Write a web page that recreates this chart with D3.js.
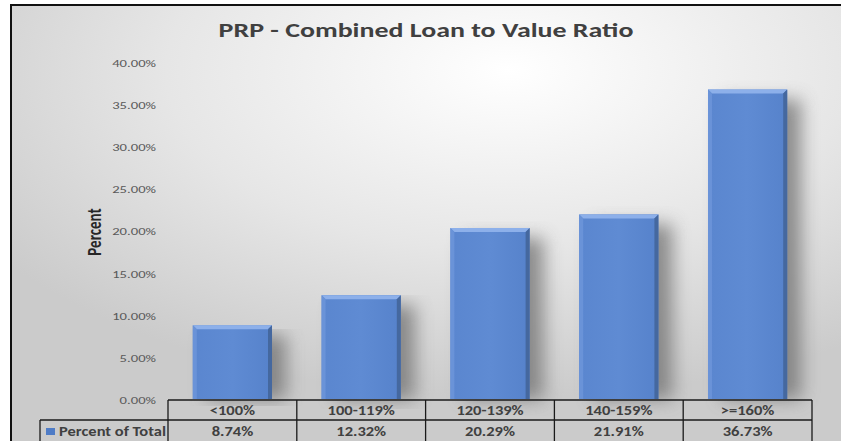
<!DOCTYPE html>
<html>
<head>
<meta charset="utf-8">
<script src="https://cdn.jsdelivr.net/npm/d3@7"></script>
<style>
  html, body { margin: 0; padding: 0; background: #fff; }
  svg { display: block; }
</style>
</head>
<body>
<svg id="chart"></svg>
<script>
(() => {
  const W = 841, H = 441;

  // data
  const categories = ["<100%", "100-119%", "120-139%", "140-159%", ">=160%"];
  const values = [8.74, 12.32, 20.29, 21.91, 36.73];
  const yTicks = [0, 5, 10, 15, 20, 25, 30, 35, 40];
  const seriesName = "Percent of Total";
  const title = "PRP - Combined Loan to Value Ratio";

  const FONT = "Carlito, 'Open Sans', 'Noto Sans', sans-serif";
  const SX = 1.33; // the picture is a bit wider than the font
  const svg = d3.select("#chart").attr("width", W).attr("height", H);
  const defs = svg.append("defs");

  // background gradient (light centre, grey edges)
  const bg = defs.append("radialGradient").attr("id", "bg")
    .attr("cx", "0.6").attr("cy", "0.15").attr("r", "0.75");
  bg.append("stop").attr("offset", "0").attr("stop-color", "#ffffff");
  bg.append("stop").attr("offset", "0.55").attr("stop-color", "#e6e6e6");
  bg.append("stop").attr("offset", "1").attr("stop-color", "#cbcbcb");

  const barG = defs.append("linearGradient").attr("id", "barFill").attr("x1", 0).attr("x2", 1);
  barG.append("stop").attr("offset", "0").attr("stop-color", "#5a86cf");
  barG.append("stop").attr("offset", "0.5").attr("stop-color", "#5f8bd3");
  barG.append("stop").attr("offset", "1").attr("stop-color", "#5682cb");

  const sh = defs.append("filter").attr("id", "shadow")
    .attr("x", "-40%").attr("y", "-10%").attr("width", "200%").attr("height", "120%");
  sh.append("feGaussianBlur").attr("stdDeviation", 9);

  // frame
  svg.append("rect").attr("x", 11).attr("y", 5).attr("width", W - 11).attr("height", H - 5)
    .attr("fill", "url(#bg)");
  svg.append("path").attr("d", `M11,${H} L11,5 L${W},5`)
    .attr("fill", "none").attr("stroke", "#111").attr("stroke-width", 2);

  // scales
  const x = d3.scaleBand().domain(categories).range([168, 812]).paddingInner(0).paddingOuter(0);
  const y = d3.scaleLinear().domain([0, 40]).range([399, 62]);
  const bw = x.bandwidth() * 0.615;
  const bx = c => x(c) + (x.bandwidth() - bw) / 2;

  // title
  svg.append("text").attr("transform", `translate(426,37) scale(${SX},1)`).attr("text-anchor", "middle")
    .attr("font-family", FONT).attr("font-weight", "bold").attr("font-size", 21)
    .attr("fill", "#404040").text(title);

  // y axis labels
  const yAxis = d3.axisLeft(y).tickValues(yTicks).tickSize(0).tickPadding(0)
    .tickFormat(d => d.toFixed(2) + "%");
  const ya = svg.append("g").attr("transform", "translate(156,0)").call(yAxis);
  ya.select(".domain").remove();
  ya.selectAll("text").attr("font-family", FONT).attr("font-size", 11)
    .attr("fill", "#595959").attr("dy", "0.4em").attr("transform", `scale(${SX},1)`);

  svg.append("text").attr("transform", "translate(101,232) rotate(-90) scale(1,1.3)")
    .attr("text-anchor", "middle").attr("font-family", FONT).attr("font-weight", "bold")
    .attr("font-size", 15).attr("fill", "#262626").text("Percent");

  // bars
  const bars = svg.append("g").selectAll("g").data(values).join("g");
  bars.append("rect")
    .attr("x", (d, i) => bx(categories[i]) + 14)
    .attr("y", d => y(d) + 10).attr("width", bw).attr("height", d => y(0) - y(d) - 10)
    .attr("fill", "#6e6e6e").attr("opacity", 0.75).attr("filter", "url(#shadow)");
  bars.append("rect")
    .attr("x", (d, i) => bx(categories[i]))
    .attr("y", d => y(d)).attr("width", bw).attr("height", d => y(0) - y(d))
    .attr("fill", "url(#barFill)");
  const bev = 4;
  // top bevel
  bars.append("path").attr("d", (d, i) => {
    const x0 = bx(categories[i]), x1 = x0 + bw, t = y(d);
    return `M${x0},${t} L${x1},${t} L${x1 - bev},${t + bev} L${x0 + bev},${t + bev} Z`;
  }).attr("fill", "#8db0ea");
  // left bevel
  bars.append("path").attr("d", (d, i) => {
    const x0 = bx(categories[i]), t = y(d), b = y(0);
    return `M${x0},${t} L${x0 + bev},${t + bev} L${x0 + bev},${b} L${x0},${b} Z`;
  }).attr("fill", "#6a93d8");
  // right bevel
  bars.append("path").attr("d", (d, i) => {
    const x1 = bx(categories[i]) + bw, t = y(d), b = y(0);
    return `M${x1},${t} L${x1 - bev},${t + bev} L${x1 - bev},${b} L${x1},${b} Z`;
  }).attr("fill", "#45689f");

  // data table
  const tY0 = 400, tY1 = 420, tY2 = 441;
  const tb = svg.append("g").attr("fill", "none").attr("stroke", "#1a1a1a").attr("stroke-width", 1.3);
  tb.append("line").attr("x1", 168).attr("x2", 812).attr("y1", tY0).attr("y2", tY0);
  tb.append("line").attr("x1", 40).attr("x2", 812).attr("y1", tY1).attr("y2", tY1);
  tb.append("line").attr("x1", 40).attr("x2", 40).attr("y1", tY1).attr("y2", tY2);
  tb.selectAll(".v").data([...categories.map(c => x(c)), 812]).join("line")
    .attr("x1", d => d).attr("x2", d => d).attr("y1", tY0).attr("y2", tY2);

  const txt = svg.append("g").attr("font-family", FONT).attr("font-weight", "bold")
    .attr("font-size", 13).attr("fill", "#404040").attr("text-anchor", "middle");
  txt.selectAll(".c").data(categories).join("text")
    .attr("transform", d => `translate(${x(d) + x.bandwidth() / 2},415) scale(1.27,1)`).text(d => d);
  txt.selectAll(".v").data(values).join("text")
    .attr("transform", (d, i) => `translate(${x(categories[i]) + x.bandwidth() / 2},436) scale(1.27,1)`)
    .text(d => d.toFixed(2) + "%");

  // legend key
  svg.append("rect").attr("x", 46).attr("y", 428).attr("width", 9).attr("height", 7)
    .attr("fill", "#4f7cc6");
  txt.append("text").attr("transform", "translate(59,436) scale(1.27,1)")
    .attr("text-anchor", "start").text(seriesName);
})();
</script>
</body>
</html>
